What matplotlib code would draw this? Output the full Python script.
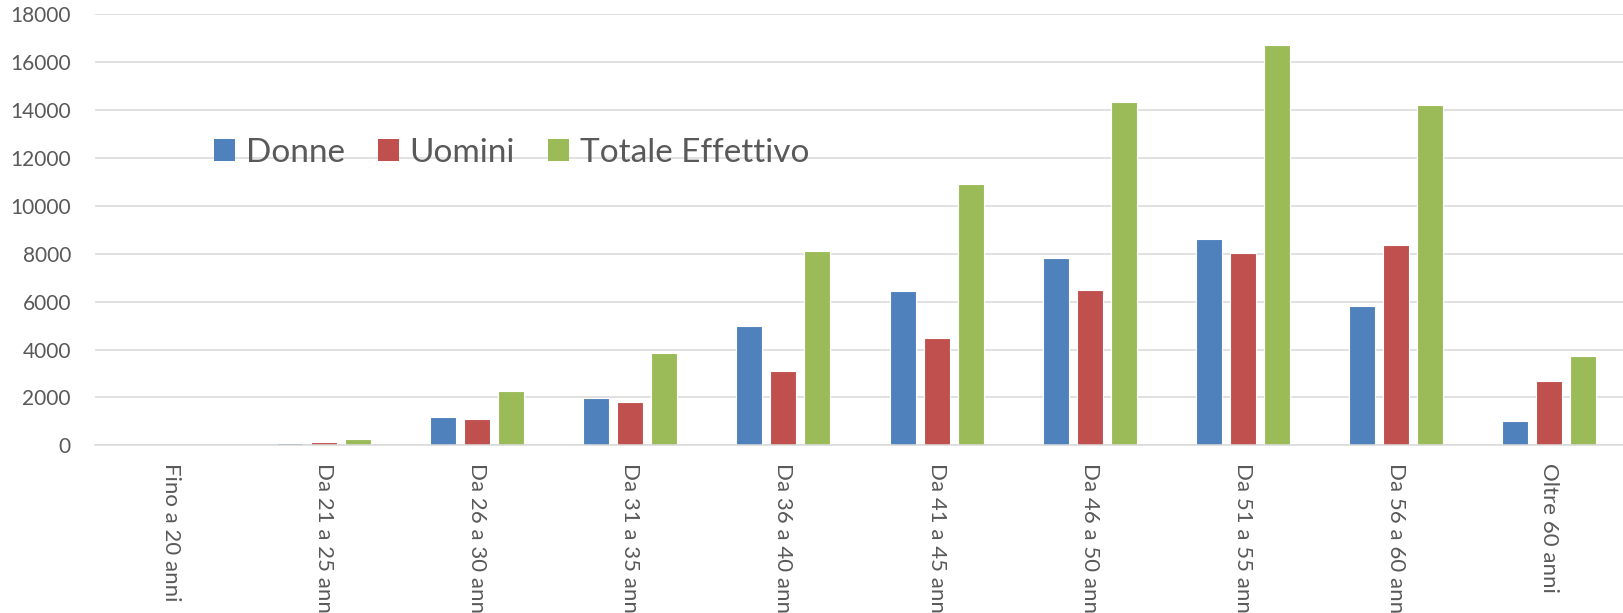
import matplotlib
matplotlib.use("Agg")
import matplotlib.pyplot as plt
from matplotlib.patches import Patch
import numpy as np

# categorie (fasce d'età)
categorie = ["Fino a 20 anni", "Da 21 a 25 anni", "Da 26 a 30 anni", "Da 31 a 35 anni",
             "Da 36 a 40 anni", "Da 41 a 45 anni", "Da 46 a 50 anni", "Da 51 a 55 anni",
             "Da 56 a 60 anni", "Oltre 60 anni"]

# valori
donne = [0, 110, 1170, 1990, 4980, 6430, 7810, 8630, 5830, 1000]
uomini = [0, 140, 1085, 1820, 3115, 4470, 6485, 8040, 8350, 2690]
totale = [0, 250, 2280, 3855, 8110, 10910, 14330, 16700, 14200, 3720]

serie = ["Donne", "Uomini", "Totale Effettivo"]
colori = ["#4F81BD", "#C0504D", "#9BBB59"]
y_ticks = [0, 2000, 4000, 6000, 8000, 10000, 12000, 14000, 16000, 18000]


def draw_chart(outputfile):
    plt.rcParams['font.family'] = ['Lato', 'DejaVu Sans']
    W, H = 1623, 613
    fig = plt.figure(figsize=(W / 100, H / 100), dpi=100)

    # posizione degli assi in pixel
    left, right, top, bottom = 94.5, 1625.5, 14.3, 445.3
    ax = fig.add_axes([left / W, 1 - bottom / H, (right - left) / W, (bottom - top) / H])

    x = np.arange(len(categorie))
    larghezza = 0.17
    passo = 0.222
    for i, (valori, colore) in enumerate(zip([donne, uomini, totale], colori)):
        ax.bar(x + (i - 1) * passo, valori, width=larghezza, color=colore,
               edgecolor="white", linewidth=0.8, zorder=3)

    ax.set_xlim(-0.5, len(categorie) - 0.5)
    ax.set_ylim(0, 18000)
    ax.set_yticks(y_ticks)
    ax.set_yticklabels([str(v) for v in y_ticks])
    ax.set_xticks(x)
    ax.set_xticklabels(categorie, rotation=-90, fontsize=16, color="#595959")

    ax.tick_params(axis="y", length=0, pad=17, labelsize=15, labelcolor="#595959")
    ax.tick_params(axis="x", length=0, pad=12.5)

    ax.grid(axis="y", color="#D9D9D9", linewidth=1.1, zorder=0)
    for lato in ["top", "right", "left"]:
        ax.spines[lato].set_visible(False)
    ax.spines["bottom"].set_color("#D9D9D9")
    ax.spines["bottom"].set_linewidth(1.1)
    ax.spines["bottom"].set_zorder(4)

    # legenda
    maniglie = [Patch(facecolor=c, edgecolor="none") for c in colori]
    leg = fig.legend(maniglie, serie, loc="center left",
                     bbox_to_anchor=(214 / W, 1 - 153 / H), ncol=3,
                     frameon=False, fontsize=24, handlelength=0.63, handleheight=0.65,
                     handletextpad=0.33, columnspacing=0.98, borderpad=0, borderaxespad=0)
    for t in leg.get_texts():
        t.set_color("#595959")

    fig.savefig(outputfile, dpi=100)
    plt.close(fig)


if __name__ == "__main__":
    draw_chart("out.png")
